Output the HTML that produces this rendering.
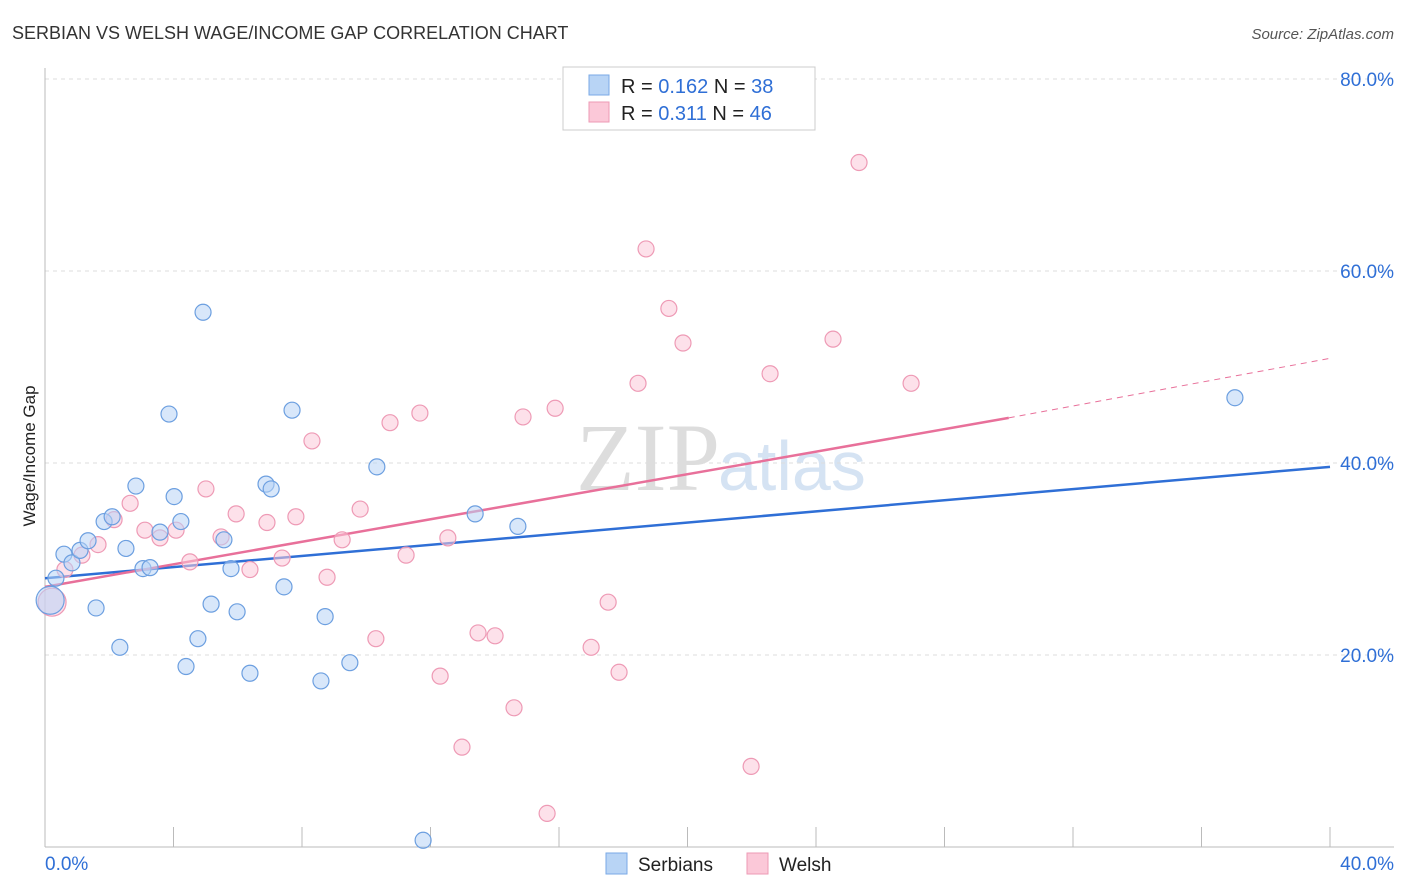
<!DOCTYPE html>
<html><head><meta charset="utf-8">
<style>
body{margin:0;background:#fff;font-family:"Liberation Sans",sans-serif;}
svg{display:block}
</style></head>
<body>
<svg id="chart" width="1406" height="892" xmlns="http://www.w3.org/2000/svg">
<text x="12" y="39" font-size="18" fill="#333">SERBIAN VS WELSH WAGE/INCOME GAP CORRELATION CHART</text>
<text x="1394" y="39" font-size="15" fill="#555" font-style="italic" text-anchor="end">Source: ZipAtlas.com</text>
<text x="35" y="456" font-size="17" fill="#222" text-anchor="middle" transform="rotate(-90 35 456)">Wage/Income Gap</text>
<text x="720" y="490" font-size="96" fill="#ddd" text-anchor="end" font-family="Liberation Serif,serif">ZIP</text>
<text x="718" y="490" font-size="70" fill="#d5e3f3">atlas</text>
<g id="grid"></g>
<g id="axes"></g>
<g id="lines"></g>
<g id="points"></g>
<g>
<rect x="563" y="67" width="252" height="63" fill="#fff" stroke="#ccc"/>
<rect x="589" y="75" width="20" height="20" fill="#b8d4f5" stroke="#7aa9e6"/>
<rect x="589" y="102" width="20" height="20" fill="#fbc8d8" stroke="#ee9ab5"/>
<text x="621" y="93" font-size="20" fill="#222">R = <tspan fill="#2f6fd6">0.162</tspan>   N = <tspan fill="#2f6fd6">38</tspan></text>
<text x="621" y="120" font-size="20" fill="#222">R =  <tspan fill="#2f6fd6">0.311</tspan>   N = <tspan fill="#2f6fd6">46</tspan></text>
</g>
<g>
<rect x="606" y="853" width="21" height="21" fill="#b8d4f5" stroke="#7aa9e6"/>
<text x="638" y="871" font-size="19" fill="#222">Serbians</text>
<rect x="747" y="853" width="21" height="21" fill="#fbc8d8" stroke="#ee9ab5"/>
<text x="779" y="871" font-size="19" fill="#222">Welsh</text>
</g>
</svg>
<script>
const xTicks=[0,4,8,12,16,20,24,28,32,36,40];
const yTicks=[20,40,60,80];
const yTickLabels=["20.0%","40.0%","60.0%","80.0%"];
const xEndLabels=["0.0%","40.0%"];
const serbX=[0.34,0.59,0.84,1.09,1.34,1.59,1.84,2.09,2.33,2.52,2.83,3.05,3.27,3.58,3.86,4.02,4.23,4.39,4.76,4.92,5.17,5.57,5.79,5.98,6.38,6.88,7.04,7.44,7.69,8.59,8.72,9.49,10.33,11.77,13.39,14.72,37.04,0.16];
const serbY=[28.0,30.5,29.6,30.9,31.9,24.9,33.9,34.4,20.8,31.1,37.6,29.0,29.1,32.8,45.1,36.5,33.9,18.8,21.7,55.7,25.3,32.0,29.0,24.5,18.1,37.8,37.3,27.1,45.5,17.3,24.0,19.2,39.6,0.7,34.7,33.4,46.8,25.7];
const welshX=[0.22,0.62,1.15,1.65,2.15,2.65,3.11,3.58,4.08,4.51,5.01,5.48,5.95,6.38,6.91,7.38,7.81,8.31,8.78,9.25,9.81,10.30,10.74,11.24,11.67,12.30,12.54,12.98,13.48,14.01,14.60,14.88,15.63,15.88,17.00,17.53,17.87,18.46,18.71,19.42,19.86,21.98,22.57,24.53,25.34,26.96];
const welshY=[25.5,28.9,30.4,31.5,34.1,35.8,33.0,32.2,33.0,29.7,37.3,32.3,34.7,28.9,33.8,30.1,34.4,42.3,28.1,32.0,35.2,21.7,44.2,30.4,45.2,17.8,32.2,10.4,22.3,22.0,14.5,44.8,3.5,45.7,20.8,25.5,18.2,48.3,62.3,56.1,52.5,8.4,49.3,52.9,71.3,48.3];
const serbTrend=[28.0,39.6];
const welshTrendSolid=[27.1,44.7];
const welshSolidEndX=30;
const welshTrendEnd=50.9;

const NS="http://www.w3.org/2000/svg";
const X=v=>45+v*32.125, Y=v=>847-v*9.6;
function mk(tag,attrs,parent){const e=document.createElementNS(NS,tag);for(const k in attrs)e.setAttribute(k,attrs[k]);parent.appendChild(e);return e;}
const grid=document.getElementById('grid'),axes=document.getElementById('axes'),lines=document.getElementById('lines'),pts=document.getElementById('points');
yTicks.forEach((t,i)=>{
 const l=mk('line',{x1:45,x2:1394,y1:Y(t),y2:Y(t),stroke:'#ddd','stroke-dasharray':'4,4'},grid);
 
 
 const tx=mk('text',{x:1394,y:Y(t)+7,'font-size':19,fill:'#2f6fd6','text-anchor':'end'},axes);
 tx.textContent=yTickLabels[i];
 
 
});
const ya=mk('line',{x1:45,x2:45,y1:68,y2:847,stroke:'#bbb'},axes);


const xa=mk('line',{x1:45,x2:1394,y1:847,y2:847,stroke:'#bbb'},axes);


xTicks.forEach(t=>{
 const l=mk('line',{x1:X(t),x2:X(t),y1:827,y2:847,stroke:'#bbb'},axes);
 
 
});
const xl0=mk('text',{x:45,y:870,'font-size':19,fill:'#2f6fd6'},axes);xl0.textContent=xEndLabels[0];


const xl1=mk('text',{x:1394,y:870,'font-size':19,fill:'#2f6fd6','text-anchor':'end'},axes);xl1.textContent=xEndLabels[1];



function drawPts(xs,ys,fill,stroke,name){
 xs.forEach((x,i)=>{
  const big=(i===xs.length-1&&name==='serbian')||(i===0&&name==='welsh');
  const c=mk('circle',{cx:X(x),cy:Y(ys[i]),r:big?14:8,fill:fill,'fill-opacity':0.55,stroke:stroke,'stroke-width':1.2},pts);
  
  
 });
}
drawPts(welshX,welshY,'#fbc8d8','#ee9ab5','welsh');
drawPts(serbX,serbY,'#b8d4f5','#6c9fe0','serbian');

const bl=mk('line',{x1:X(0),y1:Y(serbTrend[0]),x2:X(40),y2:Y(serbTrend[1]),stroke:'#2f6fd6','stroke-width':2.5},lines);


const pl=mk('line',{x1:X(0),y1:Y(welshTrendSolid[0]),x2:X(welshSolidEndX),y2:Y(welshTrendSolid[1]),stroke:'#e8709a','stroke-width':2.5},lines);


const pd=mk('line',{x1:X(welshSolidEndX),y1:Y(welshTrendSolid[1]),x2:X(40),y2:Y(welshTrendEnd),stroke:'#e8709a','stroke-width':1,'stroke-dasharray':'6,5'},lines);


</script>
</body></html>
